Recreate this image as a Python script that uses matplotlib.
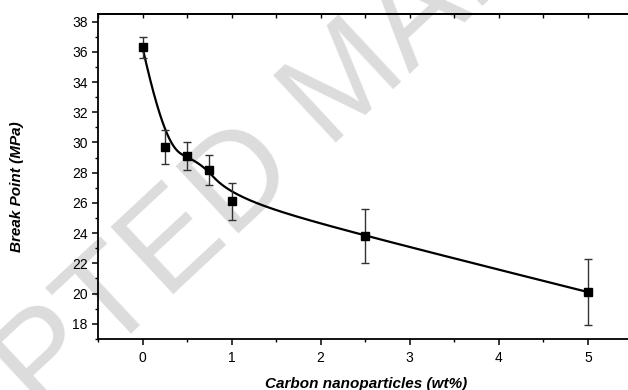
import matplotlib
matplotlib.use("Agg")
import matplotlib.pyplot as plt
import numpy as np
from matplotlib.ticker import MultipleLocator

# carbon nanoparticle loading vs break point
loading = [0, 0.25, 0.5, 0.75, 1, 2.5, 5]
break_point = [36.3, 29.7, 29.1, 28.2, 26.1, 23.8, 20.1]
break_err = [0.7, 1.1, 0.9, 1.0, 1.2, 1.8, 2.2]


def bspline_basis(u, knots, k):
    # Cox-de Boor recursion, returns (len(u), n_ctrl) matrix
    nk = len(knots)
    B = np.zeros((len(u), nk - 1))
    for j in range(nk - 1):
        B[:, j] = (u >= knots[j]) & (u < knots[j + 1])
    B[u == knots[-1], nk - k - 2] = 1.0
    for d in range(1, k + 1):
        Bn = np.zeros((len(u), nk - 1 - d))
        for j in range(nk - 1 - d):
            den = knots[j + d] - knots[j]
            if den > 0:
                Bn[:, j] += (u - knots[j]) / den * B[:, j]
            den = knots[j + d + 1] - knots[j + 1]
            if den > 0:
                Bn[:, j] += (knots[j + d + 1] - u) / den * B[:, j + 1]
        B = Bn
    return B


# clamped cubic B-spline using the data points as control points
ctrl = np.column_stack([loading, break_point])
deg = 3
n_inner = len(ctrl) - deg
knots = np.concatenate([np.zeros(deg), np.arange(n_inner + 1), np.full(deg, n_inner)]).astype(float)
u = np.linspace(0, n_inner, 600)
curve = bspline_basis(u, knots, deg) @ ctrl

plt.rcParams['font.family'] = ['Liberation Sans', 'DejaVu Sans']

fig = plt.figure(figsize=(6.28, 3.90), dpi=100)
ax = fig.add_axes([0.156, 0.131, 0.844, 0.833])
ax.set_facecolor('none')

fig.text(0.554, 0.784, "ACCEPTED MANUSCRIPT", fontsize=96, color='#dcdcdc',
         rotation=43, rotation_mode='anchor', ha='center', va='center', zorder=-1)

ax.plot(curve[:, 0], curve[:, 1], color='black', lw=1.6, zorder=3)
ax.errorbar(loading, break_point, yerr=break_err, fmt='s', color='black',
            ecolor='#333333', elinewidth=1.0, capsize=2.8, capthick=1.0,
            markersize=5.3, zorder=4)

ax.set_xlim(-0.5, 5.45)
ax.set_ylim(17, 38.5)
ax.xaxis.set_minor_locator(MultipleLocator(0.5))
ax.yaxis.set_minor_locator(MultipleLocator(1))
ax.set_xticks([0, 1, 2, 3, 4, 5])
ax.set_yticks(np.arange(18, 39, 2))

for s in ['left', 'bottom', 'top']:
    ax.spines[s].set_linewidth(1.3)
ax.spines['right'].set_visible(False)

ax.tick_params(which='major', direction='out', length=4.5, width=1.1, labelsize=10, pad=3)
ax.tick_params(axis='x', which='major', pad=4)
ax.tick_params(which='minor', direction='out', length=2.5, width=1.0)
ax.tick_params(top=False, right=False, which='both')

top = ax.secondary_xaxis('top')
top.xaxis.set_major_locator(MultipleLocator(0.5))
top.tick_params(direction='in', length=3, width=1.0, labeltop=False)
top.spines['top'].set_linewidth(1.3)

ax.set_xlabel("Carbon nanoparticles (wt%)", fontsize=11, fontweight='bold',
              fontstyle='italic')
ax.set_ylabel("Break Point (MPa)", fontsize=11, fontweight='bold',
              fontstyle='italic')
ax.xaxis.set_label_coords(0.506, -0.117)
ax.yaxis.set_label_coords(-0.14, 0.47)

fig.savefig("out.png", dpi=100)
